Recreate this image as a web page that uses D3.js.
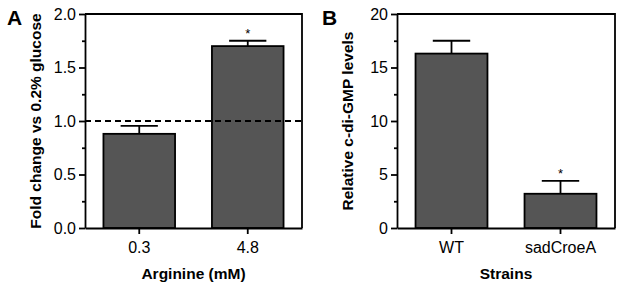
<!DOCTYPE html>
<html lang="en">
<head>
<meta charset="UTF-8"/>
<title>Fold change and c-di-GMP levels</title>
<script src="https://cdn.jsdelivr.net/npm/d3@7"></script>
<style>
  body { margin: 0; background: #fff; }
  svg text { font-family: "Liberation Sans", Arial, sans-serif; fill: #000; }
  .axis path, .axis line { stroke: #000; stroke-width: 1.8; }
  .axis text { font-size: 16px; }
  .title { font-size: 15.5px; font-weight: bold; }
  .panel { font-size: 21px; font-weight: bold; }
</style>
</head>
<body>
<script>
// panel A data
var catsA   = ["0.3", "4.8"];
var valsA   = [0.88, 1.70];
var errA    = [0.075, 0.05];
var starA   = [false, true];
var ticksA  = [0, 0.5, 1.0, 1.5, 2.0];
var minorA  = [0.25, 0.75, 1.25, 1.75];
var refLineA = 1.0;

// panel B data
var catsB   = ["WT", "sadCroeA"];
var valsB   = [16.3, 3.2];
var errB    = [1.2, 1.2];
var starB   = [false, true];
var ticksB  = [0, 5, 10, 15, 20];
var minorB  = [2.5, 7.5, 12.5, 17.5];

var W = 624, H = 289;
var svg = d3.select("body").append("svg").attr("width", W).attr("height", H);

function panel(opt) {
  var x = d3.scaleBand().domain(opt.cats).range([opt.left, opt.right])
      .paddingInner(0.34).paddingOuter(0.17);
  var y = d3.scaleLinear().domain(opt.domain).range([228, 14]);
  var g = svg.append("g");

  // bars
  g.selectAll("rect.bar").data(opt.vals).enter().append("rect")
    .attr("class", "bar")
    .attr("x", function(d, i) { return x(opt.cats[i]); })
    .attr("width", x.bandwidth())
    .attr("y", function(d) { return y(d); })
    .attr("height", function(d) { return y(0) - y(d); })
    .attr("fill", "#555555").attr("stroke", "#000").attr("stroke-width", 1.8);

  // error bars (upper only)
  opt.vals.forEach(function(v, i) {
    var cx = x(opt.cats[i]) + x.bandwidth() / 2, cw = x.bandwidth() * 0.26;
    g.append("line").attr("x1", cx).attr("x2", cx).attr("y1", y(v)).attr("y2", y(v + opt.err[i]))
      .attr("stroke", "#000").attr("stroke-width", 1.8);
    g.append("line").attr("x1", cx - cw).attr("x2", cx + cw)
      .attr("y1", y(v + opt.err[i])).attr("y2", y(v + opt.err[i]))
      .attr("stroke", "#000").attr("stroke-width", 1.8);
    if (opt.star[i]) {
      g.append("text").attr("x", cx).attr("y", y(v + opt.err[i]) - 3)
        .attr("text-anchor", "middle").style("font-size", "13px").text("*");
    }
  });

  // reference line
  if (opt.ref != null) {
    g.append("line").attr("x1", opt.left).attr("x2", opt.right)
      .attr("y1", y(opt.ref)).attr("y2", y(opt.ref))
      .attr("stroke", "#000").attr("stroke-width", 1.8).attr("stroke-dasharray", "6,4");
  }

  // frame top/right
  g.append("path")
    .attr("d", "M" + opt.left + "," + y(opt.domain[1]) + "H" + opt.right + "V" + y(0))
    .attr("fill", "none").attr("stroke", "#000").attr("stroke-width", 1.8);

  // y axis
  g.append("g").attr("class", "axis").attr("transform", "translate(" + opt.left + ",0)")
    .call(d3.axisLeft(y).tickValues(opt.ticks).tickSize(6).tickSizeOuter(0).tickPadding(3)
      .tickFormat(opt.fmt));
  g.append("g").attr("class", "axis").attr("transform", "translate(" + opt.left + ",0)")
    .call(d3.axisLeft(y).tickValues(opt.minor).tickSize(3).tickSizeOuter(0).tickFormat(""))
    .select(".domain").remove();

  // x axis
  g.append("g").attr("class", "axis").attr("transform", "translate(0," + y(0) + ")")
    .call(d3.axisBottom(x).tickSize(6).tickSizeOuter(0).tickPadding(8));

  // titles
  g.append("text").attr("class", "title").attr("text-anchor", "middle")
    .attr("x", (opt.left + opt.right) / 2).attr("y", 279).text(opt.xTitle);
  g.append("text").attr("class", "title").attr("text-anchor", "middle")
    .attr("transform", "translate(" + opt.yTitleX + "," + (y(opt.domain[1]) + y(0)) / 2 + ") rotate(-90)")
    .text(opt.yTitle);
  g.append("text").attr("class", "panel").attr("x", opt.labelX).attr("y", 25).text(opt.label);
}

panel({
  cats: catsA, vals: valsA, err: errA, star: starA, ticks: ticksA, minor: minorA,
  domain: [0, 2], ref: refLineA, left: 85, right: 302,
  fmt: d3.format(".1f"), xTitle: "Arginine (mM)", yTitle: "Fold change vs 0.2% glucose",
  yTitleX: 41, label: "A", labelX: 7
});

panel({
  cats: catsB, vals: valsB, err: errB, star: starB, ticks: ticksB, minor: minorB,
  domain: [0, 20], ref: null, left: 397, right: 615,
  fmt: d3.format("d"), xTitle: "Strains", yTitle: "Relative c-di-GMP levels",
  yTitleX: 353, label: "B", labelX: 322
});
</script>
</body>
</html>
